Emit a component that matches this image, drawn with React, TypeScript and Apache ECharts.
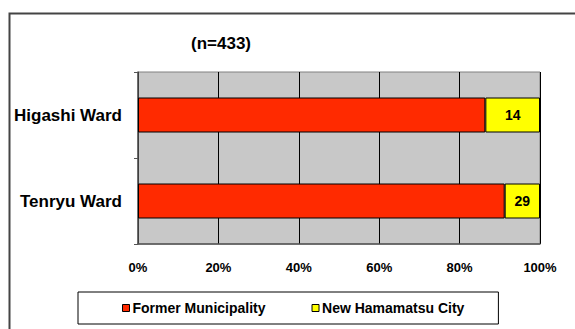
import React, { useEffect, useRef } from "react";
import * as echarts from "echarts";

// Respondents by ward and by where they lived before the merger
const wards = ["Higashi Ward", "Tenryu Ward"];
const formerCounts = [89, 301];
const newCityCounts = [14, 29];
const seriesNames = ["Former Municipality", "New Hamamatsu City"];
const percentTicks = [0, 20, 40, 60, 80, 100];

const FONT = "'Liberation Sans', Arial, sans-serif";

const totals = wards.map((_, i) => formerCounts[i] + newCityCounts[i]);
const totalN = totals.reduce((a, b) => a + b, 0);
const formerPct = formerCounts.map((v, i) => (v / totals[i]) * 100);
const newCityPct = newCityCounts.map((v, i) => (v / totals[i]) * 100);

export default function App() {
  const ref = useRef<HTMLDivElement>(null);

  useEffect(() => {
    if (!ref.current) return;
    const chart = echarts.init(ref.current, null, { renderer: "svg" });
    chart.setOption({
      animation: false,
      backgroundColor: "#ffffff",
      textStyle: { fontFamily: FONT },
      title: {
        text: `(n=${totalN})`,
        left: 186,
        top: 30,
        textStyle: { fontFamily: FONT, fontSize: 17, fontWeight: "bold", color: "#000" },
      },
      graphic: [
        {
          type: "rect",
          shape: { x: 9.5, y: 13.5, width: 700, height: 500 },
          style: { fill: "none", stroke: "#444", lineWidth: 2 },
          silent: true,
        },
      ],
      grid: {
        left: 138,
        right: 35,
        top: 72,
        bottom: 85,
        show: true,
        backgroundColor: "#c8c8c8",
        borderColor: "#808080",
        borderWidth: 1,
      },
      xAxis: {
        type: "value",
        min: percentTicks[0],
        max: percentTicks[percentTicks.length - 1],
        interval: percentTicks[1] - percentTicks[0],
        axisLine: { show: true, lineStyle: { color: "#555", width: 1.5 } },
        axisTick: { show: false },
        splitLine: { show: true, lineStyle: { color: "#000", width: 1 } },
        axisLabel: {
          formatter: "{value}%",
          fontFamily: FONT,
          fontSize: 13,
          fontWeight: "bold",
          color: "#000",
          margin: 17,
        },
      },
      yAxis: {
        type: "category",
        data: wards,
        inverse: true,
        axisLine: { show: true, lineStyle: { color: "#555", width: 1.5 } },
        axisTick: { show: true, length: 4, lineStyle: { color: "#555" } },
        axisLabel: {
          fontFamily: FONT,
          fontSize: 17,
          fontWeight: "bold",
          color: "#000",
          margin: 16,
        },
      },
      legend: {
        data: seriesNames,
        left: 78,
        top: 292,
        orient: "horizontal",
        icon: "rect",
        itemWidth: 7,
        itemHeight: 7,
        itemGap: 46,
        padding: [9, 34, 9, 44],
        borderColor: "#000",
        borderWidth: 1,
        itemStyle: { borderColor: "#000", borderWidth: 1 },
        textStyle: { fontFamily: FONT, fontSize: 14, fontWeight: "bold", color: "#000", padding: [0, 0, 0, -2] },
      },
      series: [
        {
          name: seriesNames[0],
          type: "bar",
          stack: "share",
          barWidth: 35,
          data: formerPct,
          itemStyle: { color: "#ff2a00", borderColor: "#000", borderWidth: 1 },
        },
        {
          name: seriesNames[1],
          type: "bar",
          stack: "share",
          barWidth: 35,
          data: newCityPct,
          itemStyle: { color: "#ffff00", borderColor: "#000", borderWidth: 1 },
          label: {
            show: true,
            position: "inside",
            formatter: (p: any) => String(newCityCounts[p.dataIndex]),
            fontFamily: FONT,
            fontSize: 14,
            fontWeight: "bold",
            color: "#000",
          },
        },
      ],
    });
    return () => chart.dispose();
  }, []);

  return (
    <div
      ref={ref}
      style={{ position: "fixed", left: 0, top: 0, width: 575, height: 329 }}
    />
  );
}
